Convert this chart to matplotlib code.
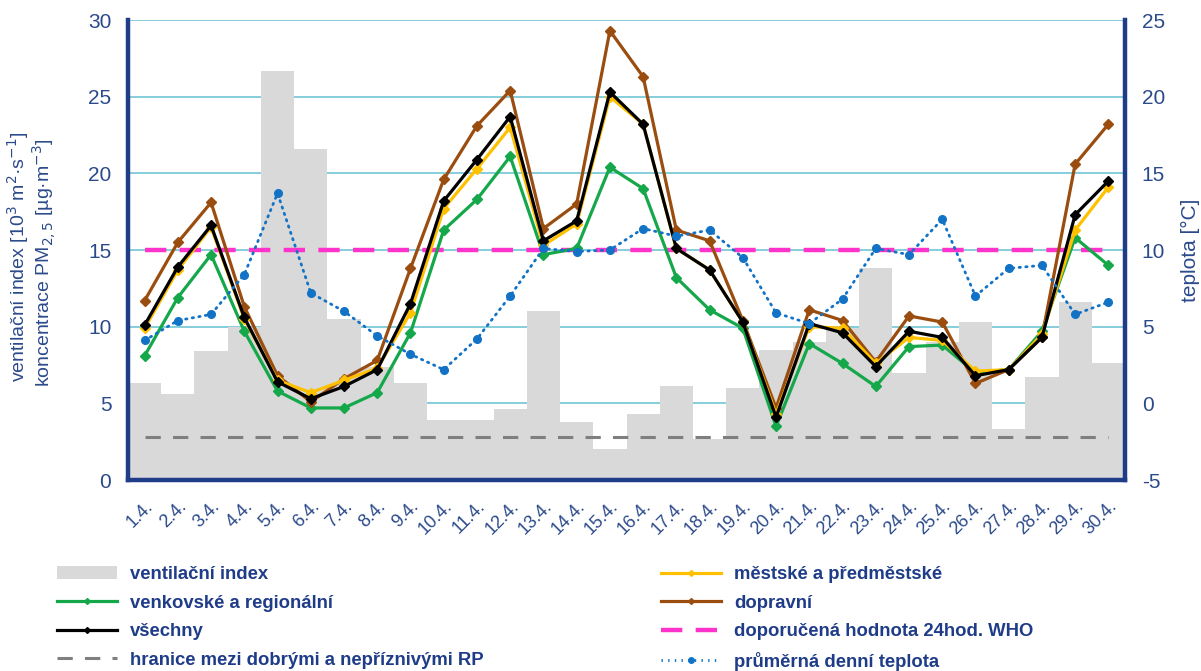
import numpy as np
import matplotlib.pyplot as plt
from matplotlib.patches import Patch
from matplotlib.lines import Line2D

plt.rcParams['font.family'] = ['Liberation Sans', 'DejaVu Sans']
plt.rcParams['axes.unicode_minus'] = False

# --- data ---
dny = [f"{d}.4." for d in range(1, 31)]

ventilacni_index = [6.3, 5.6, 8.4, 10.0, 26.7, 21.6, 10.5, 7.4, 6.3, 3.9,
                    3.9, 4.6, 11.0, 3.8, 2.0, 4.3, 6.1, 2.7, 6.0, 8.5,
                    9.0, 9.9, 13.8, 7.0, 9.0, 10.3, 3.3, 6.7, 11.6, 7.6]

venkovske = [8.1, 11.9, 14.7, 9.7, 5.8, 4.7, 4.7, 5.7, 9.6, 16.3,
             18.3, 21.1, 14.7, 15.1, 20.4, 19.0, 13.2, 11.1, 9.9, 3.5,
             8.9, 7.6, 6.1, 8.7, 8.8, 7.0, 7.2, 9.7, 15.8, 14.0]

mestske = [9.9, 13.7, 16.5, 10.5, 6.5, 5.7, 6.5, 7.3, 10.9, 17.7,
           20.3, 23.0, 15.3, 16.7, 25.0, 23.2, 15.1, 13.7, 10.3, 4.3,
           10.0, 9.9, 7.6, 9.3, 9.1, 7.1, 7.2, 9.5, 16.3, 19.1]

dopravni = [11.7, 15.5, 18.1, 11.3, 6.8, 5.1, 6.6, 7.8, 13.8, 19.6,
            23.1, 25.4, 16.4, 18.0, 29.3, 26.3, 16.3, 15.6, 10.4, 4.7,
            11.1, 10.4, 7.7, 10.7, 10.3, 6.3, 7.2, 9.3, 20.6, 23.2]

vsechny = [10.1, 13.9, 16.6, 10.6, 6.4, 5.3, 6.1, 7.2, 11.5, 18.2,
           20.9, 23.7, 15.6, 16.9, 25.3, 23.2, 15.1, 13.7, 10.3, 4.1,
           10.2, 9.6, 7.4, 9.7, 9.3, 6.8, 7.2, 9.3, 17.3, 19.5]

teplota = [4.1, 5.4, 5.8, 8.4, 13.7, 7.2, 6.0, 4.4, 3.2, 2.2,
           4.2, 7.0, 10.1, 9.9, 10.0, 11.4, 10.9, 11.3, 9.5, 5.9,
           5.2, 6.8, 10.1, 9.7, 12.0, 7.0, 8.8, 9.0, 5.8, 6.6]

who_limit = 15
hranice_rp = 2.8

# --- colours ---
navy = '#1F3C88'
text_c = '#2B4A8B'
c_bar = '#D9D9D9'
c_green = '#14A84A'
c_yellow = '#FFC000'
c_brown = '#9A4D0E'
c_magenta = '#FF33CC'
c_grey = '#7F7F7F'
c_blue = '#1273C6'
c_grid = '#7DCAD8'

x = np.arange(len(dny))

W, H = 1201, 671
fig = plt.figure(figsize=(W / 100, H / 100), dpi=100)
ax = fig.add_axes([128/W, 1 - 480/H, (1125 - 128)/W, 460/H])
ax2 = ax.twinx()

ax.bar(x, ventilacni_index, width=1.0, color=c_bar, zorder=1)
ax.plot(x, [hranice_rp] * len(x), color=c_grey, lw=2.2, dashes=(5, 4), zorder=2)
ax.plot(x, [who_limit] * len(x), color=c_magenta, lw=3.2, dashes=(4.8, 3.0), zorder=2)

lkw = dict(marker='D', markersize=5, lw=2.3)
ax.plot(x, venkovske, color=c_green, zorder=3, **lkw)
ax.plot(x, dopravni, color=c_brown, zorder=4, **lkw)
ax.plot(x, mestske, color=c_yellow, zorder=5, **lkw)
ax.plot(x, vsechny, color='black', zorder=6, **lkw)

ax2.plot(x, teplota, color=c_blue, lw=2.0, linestyle=(0, (0.5, 1.9)),
         dash_capstyle='round', marker='o', markersize=5.5)

ax.set_xlim(-0.5, 29.5)
ax.set_ylim(0, 30)
ax2.set_ylim(-5, 25)
ax.set_yticks(range(0, 31, 5))
ax2.set_yticks(range(-5, 26, 5))
ax.set_xticks(x)
ax.set_xticklabels(dny, rotation=45, ha='right', rotation_mode='anchor')

ax.set_axisbelow(True)
ax.yaxis.grid(True, color=c_grid, lw=1.3)
ax.xaxis.grid(False)

for a in (ax, ax2):
    a.tick_params(length=0, colors=text_c)
    a.spines['top'].set_visible(False)
    for s in ('left', 'right', 'bottom'):
        a.spines[s].set_color(navy)
        a.spines[s].set_linewidth(3.2)
ax.spines['right'].set_visible(False)
ax2.spines['left'].set_visible(False)
ax2.spines['bottom'].set_visible(False)

ax.tick_params(axis='y', labelsize=15, pad=12)
ax.tick_params(axis='x', labelsize=13, pad=13)
ax2.tick_params(axis='y', labelsize=15, pad=12)

# two-line left axis title, each line placed on its own
fig.text(18/W, 1 - 257/H, 'ventilační index [10$^3$ m$^2$·s$^{-1}$]',
         rotation=90, ha='center', va='center', color=text_c, fontsize=14)
fig.text(44/W, 1 - 263/H, 'koncentrace PM$_{2,5}$ [µg·m$^{-3}$]',
         rotation=90, ha='center', va='center', color=text_c, fontsize=14)
ax2.set_ylabel('teplota [°C]', color=text_c, fontsize=15)
ax2.yaxis.set_label_coords(1.056, 0.5)

# --- legend ---
h_bar = Patch(facecolor=c_bar, edgecolor='none')
h_green = Line2D([], [], color=c_green, lw=2.3, marker='D', markersize=3)
h_black = Line2D([], [], color='black', lw=2.3, marker='D', markersize=3)
h_grey = Line2D([], [], color=c_grey, lw=2.2, dashes=(5, 4))
h_yellow = Line2D([], [], color=c_yellow, lw=2.3, marker='D', markersize=3)
h_brown = Line2D([], [], color=c_brown, lw=2.3, marker='D', markersize=3)
h_mag = Line2D([], [], color=c_magenta, lw=3.2, dashes=(4.8, 3.0))
h_temp = Line2D([], [], color=c_blue, lw=2.0, linestyle=(0, (0.5, 1.9)),
                marker='o', markersize=4)

lkw2 = dict(loc='upper left', frameon=False, borderpad=0, borderaxespad=0,
            handlelength=3.25, handletextpad=0.7, labelspacing=0.63,
            prop={'size': 13.3, 'weight': 'bold'}, labelcolor=navy)
fig.legend([h_bar, h_green, h_black, h_grey],
           ['ventilační index', 'venkovské a regionální', 'všechny',
            'hranice mezi dobrými a nepříznivými RP'],
           bbox_to_anchor=(57/W, 1 - 566/H), **lkw2)
fig.legend([h_yellow, h_brown, h_mag, h_temp],
           ['městské a předměstské', 'dopravní', 'doporučená hodnota 24hod. WHO',
            'průměrná denní teplota'],
           bbox_to_anchor=(661/W, 1 - 566/H), **lkw2)

fig.savefig('out.png', dpi=100)
